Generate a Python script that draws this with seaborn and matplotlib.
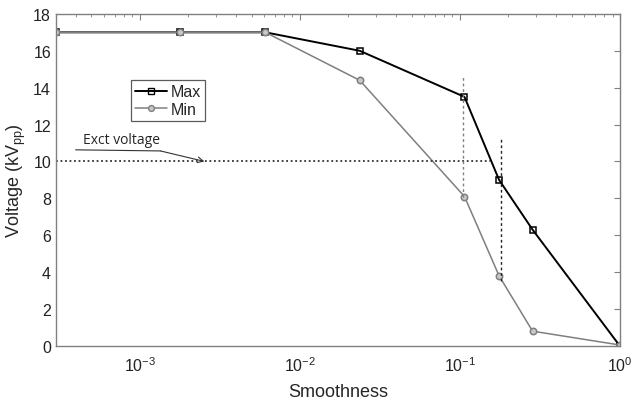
import matplotlib
matplotlib.use("Agg")
import matplotlib.pyplot as plt
import seaborn as sns
import pandas as pd
import numpy as np

smoothness = [0.0003, 0.00178, 0.0061, 0.0237, 0.107, 0.176, 0.285, 1.0]
v_max = [17.0, 17.0, 17.0, 16.0, 13.5, 9.0, 6.3, 0.0]
v_min = [17.0, 17.0, 17.0, 14.4, 8.1, 3.8, 0.8, 0.05]
series_names = ["Max", "Min"]
exct_voltage = 10.0
exct_end = 0.155
vline1_x, vline1_y = 0.105, (8.1, 14.6)
vline2_x, vline2_y = 0.18, (3.5, 11.2)

sns.set_style("white")
plt.rcParams['font.family'] = ['Liberation Sans', 'DejaVu Sans']
plt.rcParams['mathtext.fontset'] = 'custom'
plt.rcParams['mathtext.rm'] = 'Liberation Sans'
plt.rcParams['mathtext.it'] = 'Liberation Sans'

df = pd.DataFrame({
    "Smoothness": smoothness * 2,
    "Voltage": v_max + v_min,
    "Series": [series_names[0]] * len(v_max) + [series_names[1]] * len(v_min),
})

fig = plt.figure(figsize=(6.43, 4.02), dpi=100)
ax = fig.add_axes([0.087, 0.137, 0.877, 0.826])

sns.lineplot(data=df, x="Smoothness", y="Voltage", hue="Series", style="Series",
             palette={"Max": "black", "Min": "#7f7f7f"},
             markers={"Max": "s", "Min": "o"}, dashes=False, ax=ax, legend=False,
             markersize=4.6)
for line, fc, lw in zip(ax.get_lines()[:2], ["none", "#c8c8c8"], [1.4, 1.1]):
    line.set_markerfacecolor(fc)
    line.set_markeredgewidth(1.1)
    line.set_linewidth(lw)
ax.get_lines()[1].set_markeredgecolor("#7f7f7f")
ax.get_lines()[0].set_markeredgecolor("black")

ax.set_xscale("log")
ax.set_xlim(0.0003, 1.0)
ax.set_ylim(0, 18)
ax.set_yticks(range(0, 19, 2))

ax.plot([0.0003, exct_end], [exct_voltage, exct_voltage], linestyle=(0, (1, 1.5)),
        color="#333333", linewidth=1.3)
ax.plot([vline1_x, vline1_x], vline1_y, linestyle=(0, (2, 2)), color="#808080", linewidth=1.0)
ax.plot([vline2_x, vline2_x], vline2_y, linestyle=(0, (2, 2)), color="#222222", linewidth=1.0)

ax.text(0.00044, 10.8, "Exct voltage", fontsize=10, family=["Open Sans", "DejaVu Sans"],
        va="bottom", ha="left")
ax.plot([0.000398, 0.00135], [10.63, 10.57], color="#333333", linewidth=0.8)
ax.annotate("", xy=(0.00254, exct_voltage), xytext=(0.00135, 10.57),
            arrowprops=dict(arrowstyle="->", color="#333333", linewidth=0.8,
                            shrinkA=0, shrinkB=0))

from matplotlib.lines import Line2D
handles = [Line2D([], [], color="black", marker="s", markerfacecolor="none", markersize=4.2,
                  linewidth=1.4),
           Line2D([], [], color="#7f7f7f", marker="o", markerfacecolor="#c8c8c8",
                  markersize=4.2, linewidth=1.1)]
leg = ax.legend(handles, series_names, loc="upper left", bbox_to_anchor=(0.133, 0.80),
                fontsize=11.5, frameon=True, fancybox=False, handlelength=2.0,
                handletextpad=0.25, borderpad=0.25, labelspacing=0.15, borderaxespad=0)
leg.get_frame().set_edgecolor("#333333")
leg.get_frame().set_linewidth(0.9)

for s in ax.spines.values():
    s.set_color("#808080")
    s.set_linewidth(1.0)
ax.tick_params(which="both", direction="in", top=True, right=True, colors="#808080",
               labelcolor="#222222", labelsize=11.5)
ax.tick_params(axis="x", pad=7)
ax.tick_params(which="major", length=4)
ax.tick_params(which="minor", length=2.5)

ax.set_xlabel("Smoothness", fontsize=13, labelpad=6)
ax.set_ylabel(r"Voltage (kV$_{\mathrm{pp}}$)", fontsize=13, labelpad=4)

fig.savefig("out.png", dpi=100)
